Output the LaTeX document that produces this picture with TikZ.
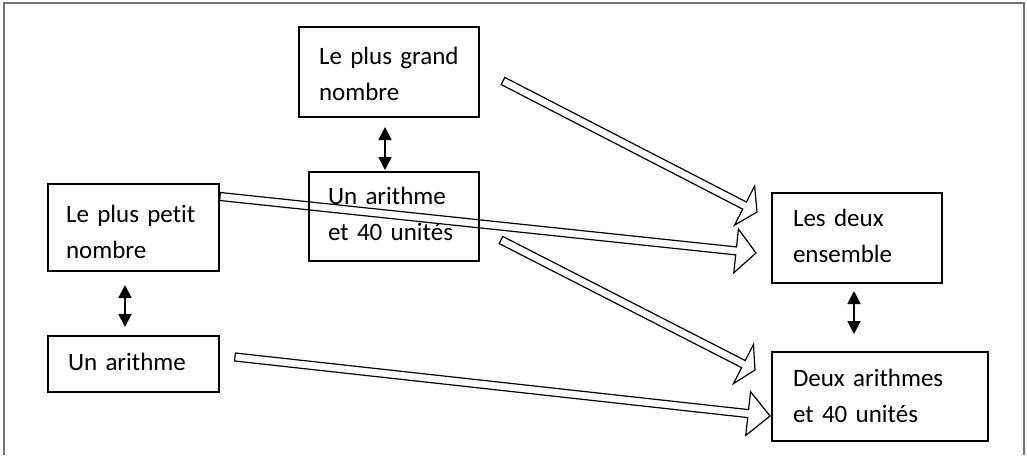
\documentclass[tikz,border=0pt]{standalone}
\usepackage{fontspec}
\setmainfont{Carlito}[Ligatures=NoCommon]
\usetikzlibrary{calc,arrows.meta}

% hollow block arrow: tail, tip, head length
\newcommand\blockarrow[3]{%
  \draw[hollow]
    ($(#1)!4pt!90:(#2)$)
    -- ($(#2)!#3!(#1)!4pt!90:(#2)$)
    -- ($(#2)!#3!(#1)!22pt!90:(#2)$)
    -- (#2)
    -- ($(#2)!#3!(#1)!22pt!-90:(#2)$)
    -- ($(#2)!#3!(#1)!4pt!-90:(#2)$)
    -- ($(#1)!4pt!-90:(#2)$) -- cycle;}

\begin{document}
\begin{tikzpicture}[x=1pt, y=-1pt,
  box/.style={draw, line width=2pt, anchor=north west, inner ysep=0pt,
    align=left, font=\fontsize{25pt}{36pt}\selectfont},
  hollow/.style={draw, line width=1.2pt, line join=miter},
  dbl/.style={line width=1.8pt,
    {Triangle[width=13pt,length=13pt]}-{Triangle[width=13pt,length=13pt]}},
  frame/.style={draw=black!55, line width=1.5pt}]

\useasboundingbox (0,0) rectangle (1027,455);
\draw[frame] (4,455) -- (4,3) -- (1024,3) -- (1024,455);

% boxes
\node[box, inner xsep=20pt, text width=140pt, text height=37pt, text depth=53pt]
  (A) at (298,26) {Le plus grand\\nombre};
\node[box, inner xsep=19pt, text width=132pt, text height=32pt, text depth=57pt]
  (B) at (308,171) {Un arithme\\et 40 unités};
\node[box, inner xsep=18pt, text width=135pt, text height=38pt, text depth=49pt]
  (C) at (47,183) {Le plus petit\\nombre};
\node[box, inner xsep=20pt, text width=131pt, text height=34pt, text depth=22pt]
  (D) at (47,335) {Un arithme};
\node[box, inner xsep=21pt, text width=128pt, text height=33pt, text depth=57pt]
  (E) at (771,192) {Les deux\\ensemble};
\node[box, inner xsep=21pt, text width=174pt, text height=34pt, text depth=55pt]
  (F) at (771,351) {Deux arithmes\\et 40 unités};

% double-headed links
\draw[dbl, shorten <=9pt, shorten >=1pt]
  ([xshift=-4pt]A.south) -- ([xshift=-4pt]A.south |- B.north);
\draw[dbl, shorten <=13pt, shorten >=8pt]
  ([xshift=-8.5pt]C.south) -- ([xshift=-8.5pt]C.south |- D.north);
\draw[dbl, shorten <=7pt, shorten >=17pt]
  ([xshift=-3pt]E.south) -- ([xshift=-3pt]E.south |- F.north);

% block arrow ends
\coordinate (ae0) at ($(A.north east)+(23,55)$);
\coordinate (ae1) at ($(E.north west)+(-14,20)$);
\coordinate (ce0) at ($(C.north east)+(0,13.5)$);
\coordinate (ce1) at ($(E.north west)+(-15,61)$);
\coordinate (bf0) at ($(B.north east)+(21,69)$);
\coordinate (bf1) at ($(F.north west)+(-16,19)$);
\coordinate (df0) at ($(D.north east)+(15,22)$);
\coordinate (df1) at ($(F.north west)+(-1,65)$);

\blockarrow{ae0}{ae1}{14pt}
\blockarrow{ce0}{ce1}{20pt}
\blockarrow{bf0}{bf1}{13pt}
\blockarrow{df0}{df1}{22pt}
\end{tikzpicture}
\end{document}
